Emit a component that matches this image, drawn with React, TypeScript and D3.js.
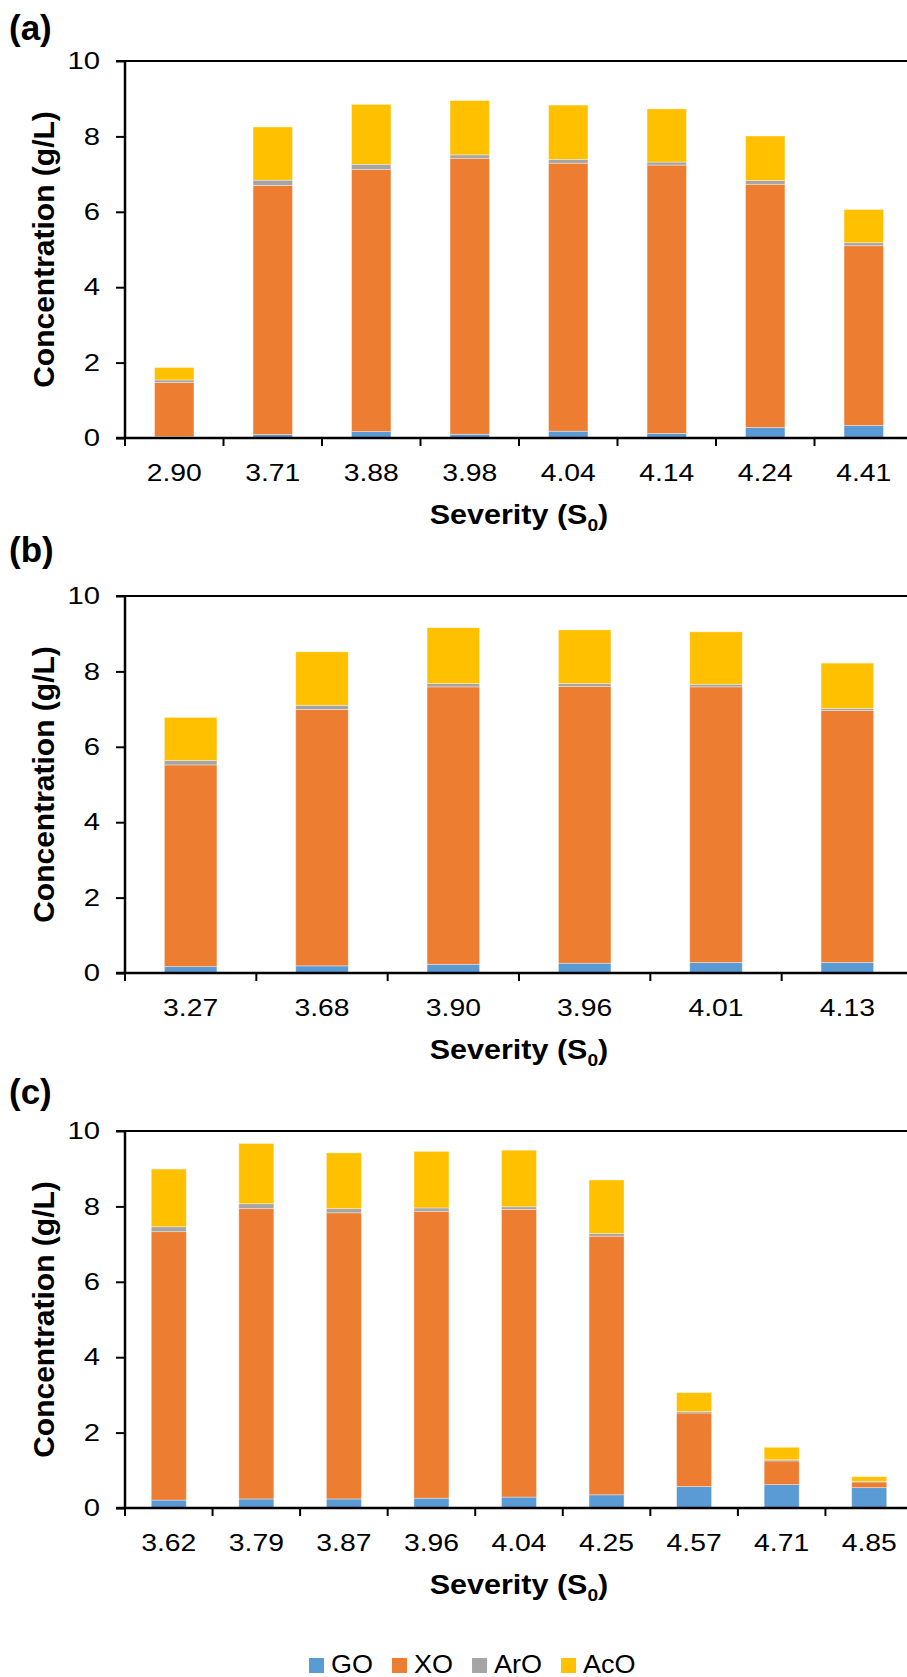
import React, { useEffect, useRef } from 'react';
import * as d3 from 'd3';

// series + colours (Excel default palette)
const series = ['GO', 'XO', 'ArO', 'AcO'];
const colors = ['#5B9BD5', '#ED7D31', '#A5A5A5', '#FFC000'];

// panel (a)
const sevA = ['2.90', '3.71', '3.88', '3.98', '4.04', '4.14', '4.24', '4.41'];
const goA = [0.04, 0.09, 0.17, 0.10, 0.18, 0.12, 0.28, 0.33];
const xoA = [1.43, 6.61, 6.95, 7.32, 7.11, 7.12, 6.45, 4.77];
const aroA = [0.07, 0.14, 0.14, 0.09, 0.10, 0.08, 0.10, 0.08];
const acoA = [0.33, 1.41, 1.59, 1.44, 1.44, 1.41, 1.18, 0.88];

// panel (b)
const sevB = ['3.27', '3.68', '3.90', '3.96', '4.01', '4.13'];
const goB = [0.17, 0.19, 0.23, 0.26, 0.28, 0.28];
const xoB = [5.35, 6.80, 7.36, 7.34, 7.31, 6.68];
const aroB = [0.12, 0.11, 0.09, 0.08, 0.07, 0.06];
const acoB = [1.14, 1.42, 1.48, 1.42, 1.39, 1.20];

// panel (c)
const sevC = ['3.62', '3.79', '3.87', '3.96', '4.04', '4.25', '4.57', '4.71', '4.85'];
const goC = [0.21, 0.24, 0.24, 0.26, 0.29, 0.35, 0.57, 0.62, 0.54];
const xoC = [7.12, 7.70, 7.59, 7.61, 7.63, 6.86, 1.95, 0.63, 0.15];
const aroC = [0.13, 0.13, 0.11, 0.09, 0.07, 0.07, 0.04, 0.03, 0.02];
const acoC = [1.53, 1.60, 1.48, 1.50, 1.50, 1.42, 0.50, 0.33, 0.12];

const yTicks = [0, 2, 4, 6, 8, 10];

const FONT = '"Liberation Sans", Arial, sans-serif';

// widen text horizontally (the source figure text is a bit stretched)
function stretch(sel: any, k: number) {
  sel.each(function (this: SVGTextElement) {
    const w = this.getComputedTextLength();
    this.setAttribute('textLength', String(w * k));
    this.setAttribute('lengthAdjust', 'spacingAndGlyphs');
  });
}

function App() {
  const ref = useRef<SVGSVGElement>(null);

  useEffect(() => {
    const W = 907;
    const H = 1677;
    const left = 125;
    const right = 913; // plot runs past the picture edge
    const ph = 377;

    const svg = d3.select(ref.current);
    svg.selectAll('*').remove();
    svg.attr('width', W).attr('height', H).style('font-family', FONT);

    const panels = [
      { label: '(a)', cats: sevA, vals: [goA, xoA, aroA, acoA], top: 61, labelY: 40 },
      { label: '(b)', cats: sevB, vals: [goB, xoB, aroB, acoB], top: 596, labelY: 562 },
      { label: '(c)', cats: sevC, vals: [goC, xoC, aroC, acoC], top: 1131, labelY: 1104 },
    ];

    panels.forEach((p) => {
      const g = svg.append('g');
      const x = d3.scaleBand<string>().domain(p.cats).range([left, right]).paddingInner(0.6).paddingOuter(0.3);
      const y = d3.scaleLinear().domain([0, 10]).range([p.top + ph, p.top]);

      const rows = p.cats.map((c, i) => {
        const r: any = { cat: c };
        series.forEach((s, j) => { r[s] = p.vals[j][i]; });
        return r;
      });
      const stacked = d3.stack<any>().keys(series)(rows);

      // bars
      g.selectAll('g.layer')
        .data(stacked)
        .join('g')
        .attr('class', 'layer')
        .attr('fill', (d, i) => colors[i])
        .selectAll('rect')
        .data((d) => d)
        .join('rect')
        .attr('x', (d: any) => x(d.data.cat) as number)
        .attr('width', x.bandwidth())
        .attr('y', (d) => y(d[1]))
        .attr('height', (d) => y(d[0]) - y(d[1]))
        .attr('stroke', '#ffffff')
        .attr('stroke-opacity', 0.45)
        .attr('stroke-width', 0.8);

      // top border of plot area
      g.append('line')
        .attr('x1', left - 9).attr('x2', W)
        .attr('y1', y(10)).attr('y2', y(10))
        .attr('stroke', '#000').attr('stroke-width', 2);

      // y axis
      const yAxis = d3.axisLeft(y).tickValues(yTicks).tickSize(9).tickPadding(16).tickFormat(d3.format('d'));
      const ya = g.append('g').attr('transform', `translate(${left},0)`).call(yAxis);
      ya.select('.domain').attr('stroke-width', 2.5).attr('d', `M0,${y(10)}V${y(0)}`);
      ya.selectAll('.tick line').attr('stroke-width', 2);
      ya.selectAll('.tick text').attr('font-size', 24).attr('fill', '#000').attr('font-family', FONT);
      stretch(ya.selectAll('.tick text'), 1.22);

      // x axis: labels at centres, tick marks at category boundaries
      const xAxis = d3.axisBottom(x).tickSize(0).tickPadding(26);
      const xa = g.append('g').attr('transform', `translate(0,${y(0)})`).call(xAxis);
      xa.select('.domain').remove();
      xa.selectAll('.tick text').attr('font-size', 24).attr('fill', '#000').attr('font-family', FONT);
      stretch(xa.selectAll('.tick text'), 1.18);

      g.append('line')
        .attr('x1', left - 9).attr('x2', W)
        .attr('y1', y(0)).attr('y2', y(0))
        .attr('stroke', '#000').attr('stroke-width', 2.5);
      g.selectAll('line.xtick')
        .data(d3.range(p.cats.length + 1))
        .join('line')
        .attr('class', 'xtick')
        .attr('x1', (i) => left + i * x.step()).attr('x2', (i) => left + i * x.step())
        .attr('y1', y(0)).attr('y2', y(0) + 8)
        .attr('stroke', '#000').attr('stroke-width', 2);

      // axis titles
      const xt = g.append('text')
        .attr('x', (left + right) / 2)
        .attr('y', y(0) + 86)
        .attr('text-anchor', 'middle')
        .attr('font-size', 27)
        .attr('font-weight', 'bold');
      xt.append('tspan').text('Severity (S');
      xt.append('tspan').attr('font-size', 17).attr('dy', 7).text('0');
      xt.append('tspan').attr('dy', -7).text(')');
      stretch(xt, 1.13);

      g.append('text')
        .attr('transform', `translate(54,${(y(0) + y(10)) / 2}) rotate(-90)`)
        .attr('text-anchor', 'middle')
        .attr('font-size', 30)
        .attr('font-weight', 'bold')
        .text('Concentration (g/L)');

      // panel letter
      g.append('text')
        .attr('x', 9)
        .attr('y', p.labelY)
        .attr('font-size', 35)
        .attr('font-weight', 'bold')
        .text(p.label);
    });

    // legend
    const lg = svg.append('g');
    let lx = 309;
    series.forEach((s, i) => {
      lg.append('rect')
        .attr('x', lx).attr('y', 1658)
        .attr('width', 15).attr('height', 15)
        .attr('fill', colors[i]);
      const t = lg.append('text')
        .attr('x', lx + 22).attr('y', 1673)
        .attr('font-size', 25)
        .text(s);
      const w = (t.node() as SVGTextElement).getComputedTextLength() * 1.08;
      stretch(t, 1.08);
      lx += 22 + w + 19;
    });
  }, []);

  return (
    <div style={{ width: 907, height: 1677, overflow: 'hidden' }}>
      <style>{'body{margin:0;}'}</style>
      <svg ref={ref}></svg>
    </div>
  );
}

export default App;
